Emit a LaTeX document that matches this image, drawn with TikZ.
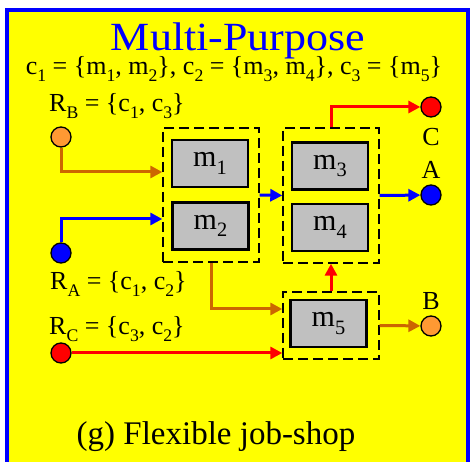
\documentclass[tikz,border=0pt]{standalone}
\usepackage{fontspec}
\setmainfont{Liberation Serif}
\newfontfamily\titlefont[FakeStretch=1.1]{Liberation Serif}
\usepackage{graphicx}
\usepackage{tikz}
\usetikzlibrary{%
  arrows.meta,
  positioning,
  calc}
\definecolor{frameblue}{RGB}{0,0,255}
\definecolor{bgyellow}{RGB}{255,255,0}
\definecolor{jobred}{RGB}{255,0,0}
\definecolor{jobblue}{RGB}{0,0,255}
\definecolor{joborange}{RGB}{204,102,0}
\definecolor{dotorange}{RGB}{255,153,51}
\definecolor{machgray}{RGB}{192,192,192}
\newcommand{\lowix}[1]{\raisebox{-0.25em}{\scalebox{0.68}{#1}}}
\tikzset{
  %% Machines
  machbox/.style={
    rectangle, draw=black, line width=2.6pt,
    fill=machgray, inner sep=0pt,
    minimum width=76pt, minimum height=47pt,
    font=\fontsize{30pt}{34pt}\selectfont},
  %% Cells (dashed groups of machines)
  cellbox/.style={
    rectangle, draw=black, line width=1.4pt,
    dash pattern=on 10pt off 5pt, inner sep=0pt},
  %% Job entry / exit points
  jobdot/.style={
    circle, draw=black, line width=1.3pt,
    minimum size=20pt, inner sep=0pt},
  %% Text labels
  lbl/.style={
    inner sep=0pt, font=\fontsize{26pt}{30pt}\selectfont},
  %% Arrows
  jarrow/.style={-{Triangle[length=12pt,width=12pt]}, line width=3pt},
}

\begin{document}
\begin{tikzpicture}[x=1pt,y=-1pt]
  \useasboundingbox (0,0) rectangle (475,462);
  \clip (0,0) rectangle (475,462);

  %% Frame
  \draw[frameblue, line width=4pt, fill=bgyellow] (7,10) rectangle (468,480);

  %% Title and cell definition
  \node[lbl, anchor=base, text=frameblue,
        font=\titlefont\fontsize{40pt}{44pt}\selectfont] (title) at (238,51) {Multi-Purpose};
  \node[lbl, anchor=base] (cells) at (234,75)
    {c\lowix{1} = \{m\lowix{1}, m\lowix{2}\}, c\lowix{2} = \{m\lowix{3}, m\lowix{4}\}, c\lowix{3} = \{m\lowix{5}\}};

  %% Cells
  \node[cellbox, minimum width=96pt, minimum height=134pt] (c1) at (211,195)   {};
  \node[cellbox, minimum width=96pt, minimum height=135pt] (c2) at (331,195.5) {};
  \node[cellbox, minimum width=96pt, minimum height=67pt]  (c3) at (331,325.5) {};

  %% Machines
  \node[machbox] (m1) at (210,163.5) {m\lowix{1}};
  \node[machbox] (m2) at (210.5,226) {m\lowix{2}};
  \node[machbox] (m3) at (330,166)   {m\lowix{3}};
  \node[machbox] (m4) at (330,227.5) {m\lowix{4}};
  \node[machbox] (m5) at (328.5,323.5) {m\lowix{5}};

  %% Job sources and sinks
  \node[jobdot, fill=dotorange] (srcB) at (61,137)  {};
  \node[jobdot, fill=jobblue]   (srcA) at (61,253)  {};
  \node[jobdot, fill=jobred]    (srcC) at (61,353)  {};
  \node[jobdot, fill=jobred]    (outC) at (431,107) {};
  \node[jobdot, fill=jobblue]   (outA) at (431,195) {};
  \node[jobdot, fill=dotorange] (outB) at (431,326) {};

  %% Routes
  \node[lbl, anchor=base west] (rB) at (49,112) {R\lowix{B} = \{c\lowix{1}, c\lowix{3}\}};
  \node[lbl, anchor=base west] (rA) at (50,290) {R\lowix{A} = \{c\lowix{1}, c\lowix{2}\}};
  \node[lbl, anchor=base west] (rC) at (49,335) {R\lowix{C} = \{c\lowix{3}, c\lowix{2}\}};
  \node[lbl, anchor=base] (lC) at (431,146) {C};
  \node[lbl, anchor=base] (lA) at (431,179) {A};
  \node[lbl, anchor=base] (lB) at (431,310) {B};

  %% Flows
  \draw[jarrow, joborange] (srcB) |- ([yshift=23pt]c1.west);
  \draw[jarrow, jobblue]   (srcA) |- ([yshift=-24pt]c1.west);
  \draw[jarrow, jobblue]   (c1.east) -- (c2.west);
  \draw[jarrow, jobblue]   (c2.east) -- (outA);
  \draw[jarrow, jobred]    (c2.north) |- (outC);
  \draw[jarrow, jobred]    (c3.north) -- (c2.south);
  \draw[jarrow, joborange] (c1.south) |- ([yshift=16.5pt]c3.west);
  \draw[jarrow, jobred]    (srcC) -- (srcC -| c3.west);
  \draw[jarrow, joborange] (c3.east) -- (outB);

  %% Caption
  \node[lbl, anchor=base, font=\fontsize{33pt}{38pt}\selectfont] (caption) at (216,445)
    {(g) Flexible job-shop};

\end{tikzpicture}
\end{document}
